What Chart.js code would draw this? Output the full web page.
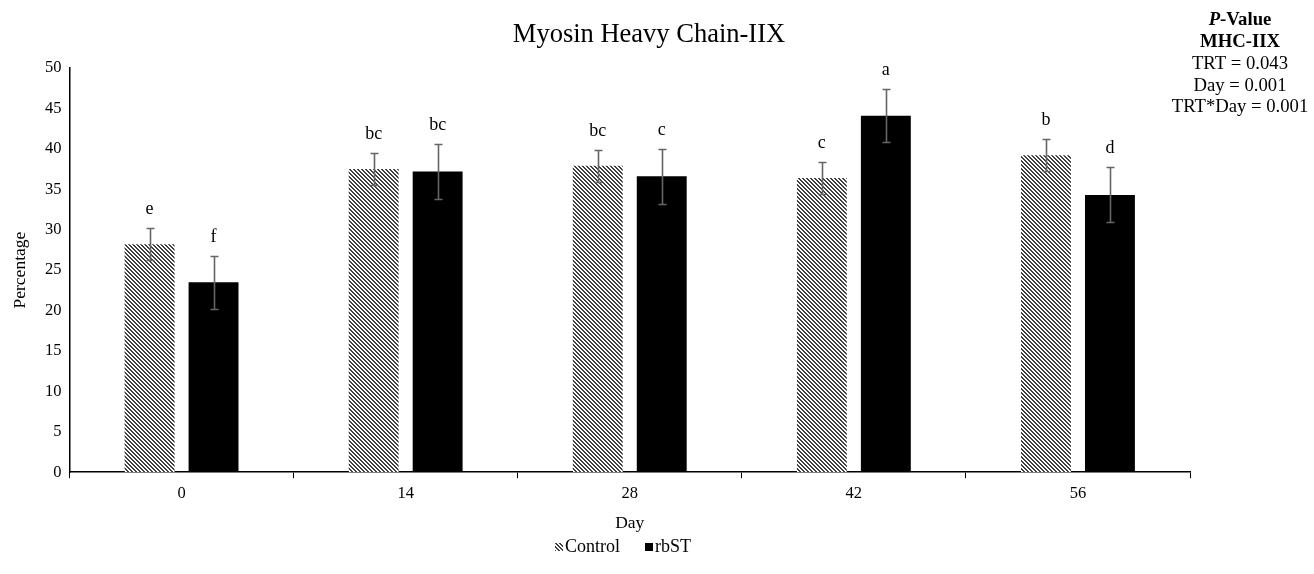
<!DOCTYPE html>
<html>
<head>
<meta charset="utf-8">
<script src="https://cdn.jsdelivr.net/npm/chart.js@4"></script>
<style>
  html, body { margin: 0; padding: 0; background: #fff; }
  #wrap { width: 1314px; height: 574px; }
</style>
</head>
<body>
<div id="wrap"><canvas id="c"></canvas></div>
<script>
var days = ['0', '14', '28', '42', '56'];
var controlVals = [28.2, 37.5, 37.9, 36.4, 39.2];
var controlErr = [2.0, 2.0, 2.0, 2.0, 2.0];
var controlLetters = ['e', 'bc', 'bc', 'c', 'b'];
var rbstVals = [23.5, 37.2, 36.6, 44.1, 34.3];
var rbstErr = [3.3, 3.4, 3.4, 3.3, 3.4];
var rbstLetters = ['f', 'bc', 'c', 'a', 'd'];
var pValueLines = ['TRT = 0.043', 'Day = 0.001', 'TRT*Day = 0.001'];

var serif = '"Liberation Serif", "Times New Roman", serif';

// excel "wide downward diagonal" fill, drawn pixel by pixel so it stays crisp
function hatch() {
  var p = document.createElement('canvas');
  p.width = 4; p.height = 4;
  var g = p.getContext('2d');
  g.fillStyle = '#fff';
  g.fillRect(0, 0, 4, 4);
  g.fillStyle = '#404040';
  for (var y = 0; y < 4; y++) {
    for (var x = 0; x < 4; x++) {
      var d = ((x - y) % 4 + 4) % 4;
      if (d === 0 || d === 1) g.fillRect(x, y, 1, 1);
    }
  }
  return g.createPattern(p, 'repeat');
}
var hatchFill = hatch();

var errLetters = {
  id: 'errLetters',
  afterDatasetsDraw: function(chart) {
    var ctx = chart.ctx, y = chart.scales.y;
    var errs = [controlErr, rbstErr], letters = [controlLetters, rbstLetters];
    ctx.save();
    chart.data.datasets.forEach(function(ds, i) {
      chart.getDatasetMeta(i).data.forEach(function(bar, j) {
        var v = ds.data[j], e = errs[i][j];
        var top = Math.round(y.getPixelForValue(v + e)) + 0.5;
        var bot = Math.round(y.getPixelForValue(v - e)) + 0.5;
        var bx = Math.round(bar.x) + 0.5;
        ctx.strokeStyle = '#666';
        ctx.lineWidth = 1.6;
        ctx.beginPath();
        ctx.moveTo(bx, top); ctx.lineTo(bx, bot);
        ctx.moveTo(bx - 4, top); ctx.lineTo(bx + 4, top);
        ctx.moveTo(bx - 4, bot); ctx.lineTo(bx + 4, bot);
        ctx.stroke();
        ctx.fillStyle = '#000';
        ctx.font = '18px ' + serif;
        ctx.textAlign = 'center';
        ctx.textBaseline = 'bottom';
        ctx.fillText(letters[i][j], bar.x, top - 10);
      });
    });
    // chart title, centred on the whole picture like the excel one
    ctx.textAlign = 'center';
    ctx.textBaseline = 'middle';
    ctx.font = '26.5px ' + serif;
    ctx.fillText('Myosin Heavy Chain-IIX', 649, 35);
    // p-value box, top right
    var cx = 1240;
    ctx.font = 'italic bold 18.7px ' + serif;
    var w1 = ctx.measureText('P').width;
    ctx.font = 'bold 18.7px ' + serif;
    var w2 = ctx.measureText('-Value').width;
    ctx.textAlign = 'left';
    ctx.font = 'italic bold 18.7px ' + serif;
    ctx.fillText('P', cx - (w1 + w2) / 2, 20);
    ctx.font = 'bold 18.7px ' + serif;
    ctx.fillText('-Value', cx - (w1 + w2) / 2 + w1, 20);
    ctx.textAlign = 'center';
    ctx.fillText('MHC-IIX', cx, 42);
    ctx.font = '18.7px ' + serif;
    pValueLines.forEach(function(t, k) {
      ctx.fillText(t, cx, 64 + k * 21.7);
    });
    // legend under the axis title
    var ly = 547, lx = 555;
    ctx.font = '18px ' + serif;
    ctx.textAlign = 'left';
    chart.data.datasets.forEach(function(ds, i) {
      ctx.fillStyle = ds.backgroundColor;
      ctx.fillRect(lx, ly - 4, 8, 8);
      ctx.fillStyle = '#000';
      ctx.fillText(ds.label, lx + 10, ly);
      lx += 10 + ctx.measureText(ds.label).width + 25;
    });
    ctx.restore();
  }
};

new Chart(document.getElementById('c'), {
  type: 'bar',
  data: {
    labels: days,
    datasets: [
      { label: 'Control', data: controlVals, backgroundColor: hatchFill, borderWidth: 0 },
      { label: 'rbST', data: rbstVals, backgroundColor: '#000', borderWidth: 0 }
    ]
  },
  options: {
    responsive: true,
    maintainAspectRatio: false,
    animation: false,
    devicePixelRatio: 1,
    categoryPercentage: 0.571,
    barPercentage: 0.78,
    layout: { padding: { left: 6, right: 124, top: 68, bottom: 40 } },
    plugins: {
      title: { display: false },
      legend: { display: false },
      tooltip: { enabled: false }
    },
    scales: {
      x: {
        grid: { display: true, drawOnChartArea: false, offset: true, tickLength: 6, color: '#000' },
        border: { color: '#000', width: 1.5 },
        ticks: { color: '#000', font: { family: serif, size: 16.5 }, padding: 6 },
        title: { display: true, text: 'Day', color: '#000', font: { family: serif, size: 17.5 }, padding: { top: 3, bottom: 0 } }
      },
      y: {
        min: 0,
        max: 50,
        ticks: { stepSize: 5, color: '#000', font: { family: serif, size: 16.5 }, padding: 8 },
        grid: { display: false, tickLength: 0 },
        border: { color: '#000', width: 1.5 },
        title: { display: true, text: 'Percentage', color: '#000', font: { family: serif, size: 17.5 }, padding: { bottom: 6 } }
      }
    }
  },
  plugins: [errLetters]
});
</script>
</body>
</html>
